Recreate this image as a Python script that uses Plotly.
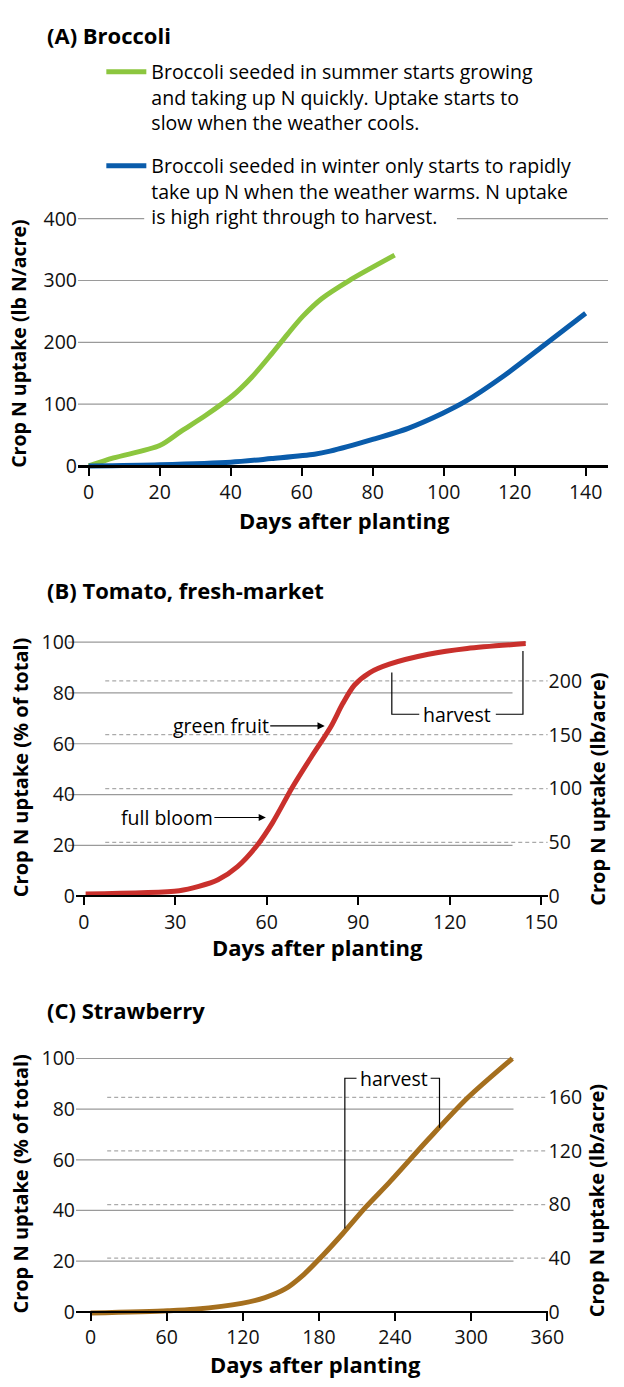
import plotly.graph_objects as go

# ---------------- data ----------------
broccoli_summer_days = [0, 7, 20, 26, 33, 40.6, 46, 51.5, 56, 60.3, 65.7, 73.4, 86.2]
broccoli_summer_n = [0, 13, 33, 56, 82, 114, 144, 181, 213, 242, 271, 300, 341]
broccoli_winter_days = [0, 20, 40, 51.5, 63.6, 68, 80, 90, 99.6, 106, 117, 128, 140]
broccoli_winter_n = [0, 2, 6, 12, 19, 24, 43, 61, 85, 104, 146, 194, 247]

tomato_days = [0.6, 31.3, 37.7, 44, 50.4, 56.8, 61.9, 68.3, 74.7, 81, 84.9, 88.7, 93.8, 100.2, 113, 125.7, 144.9]
tomato_pct = [0.9, 2.2, 3.9, 6.5, 11.7, 20, 29, 42.7, 55, 66.7, 75.8, 83, 88, 91.3, 95.2, 97.5, 99.4]

strawberry_days = [0, 60.8, 82, 119, 137.5, 153, 168, 183.5, 199, 217, 235.7, 266, 297, 332.4]
strawberry_pct = [-0.5, 0.4, 1, 3.3, 5.6, 8.9, 14.7, 22.5, 31, 41.4, 51.2, 68, 84.4, 100]

a_xticks = [0, 20, 40, 60, 80, 100, 120, 140]
a_yticks = [0, 100, 200, 300, 400]
b_xticks = [0, 30, 60, 90, 120, 150]
b_yticks_pct = [0, 20, 40, 60, 80, 100]
b_yticks_lb = [0, 50, 100, 150, 200]
c_xticks = [0, 60, 120, 180, 240, 300, 360]
c_yticks_pct = [0, 20, 40, 60, 80, 100]
c_yticks_lb = [0, 40, 80, 120, 160]
b_lb_per_pct = 2.36
c_lb_per_pct = 1.89

summer_label = "Broccoli seeded in summer starts growing<br>and taking up N quickly. Uptake starts to<br>slow when the weather cools."
winter_label = "Broccoli seeded in winter only starts to rapidly<br>take up N when the weather warms. N uptake<br>is high right through to harvest."

# tomato annotations: (day, pct) the arrow points to
green_fruit_pt = (79, 67)
full_bloom_pt = (59.7, 31)
tomato_harvest = dict(x0=101, x1=144, y_low=71.6, y0_top=88, y1_top=96.5)
straw_harvest = dict(x0=200.4, x1=275, y_top=92.2, y0_low=32.9, y1_low=72.7)

# ---------------- styling ----------------
W, H = 624, 1387
FONT = "Open Sans, Roboto, sans-serif"
GREEN = "#8CC63F"
BLUE = "#0A5CAB"
RED = "#C9302C"
BROWN = "#A56F1E"
GRID = "#9a9a9a"
DASH = "#aaaaaa"


def px(x):
    return x / W


def py(y):
    return 1 - y / H


fig = go.Figure()

# Panel A traces
fig.add_trace(go.Scatter(x=broccoli_summer_days, y=broccoli_summer_n, mode="lines",
                         line=dict(color=GREEN, width=5, shape="spline", smoothing=0.8),
                         name=summer_label, legendgroup="s", xaxis="x", yaxis="y"))
fig.add_trace(go.Scatter(x=broccoli_winter_days, y=broccoli_winter_n, mode="lines",
                         line=dict(color=BLUE, width=5, shape="spline", smoothing=0.8),
                         name=winter_label, legendgroup="w", xaxis="x", yaxis="y"))
# Panel B
fig.add_trace(go.Scatter(x=tomato_days, y=tomato_pct, mode="lines",
                         line=dict(color=RED, width=5, shape="spline", smoothing=0.8),
                         showlegend=False, xaxis="x2", yaxis="y2"))
# Panel C
fig.add_trace(go.Scatter(x=strawberry_days, y=strawberry_pct, mode="lines",
                         line=dict(color=BROWN, width=5, shape="spline", smoothing=0.8),
                         showlegend=False, xaxis="x3", yaxis="y3"))

tickfont = dict(family=FONT, size=19.5, color="#111")

# axis ranges / domains (pixel-derived)
a_yr = [-10, 410]
a_ydom = [py(463 + 10 * 0.625), py(463 - 410 * 0.625)]
b_yr = [-5, 103]
b_ydom = [py(898 + 5 * 2.57), py(898 - 103 * 2.57)]
c_yr = [-5, 103]
c_ydom = [py(1318 + 5 * 2.56), py(1318 - 103 * 2.56)]

xcommon = dict(showgrid=False, zeroline=False, showline=True, linecolor="black",
               ticks="outside", ticklen=8, tickwidth=2, tickcolor="black",
               tickfont=tickfont, anchor="free")
ycommon = dict(showgrid=False, zeroline=False, showline=False, ticks="",
               tickfont=tickfont)

fig.update_layout(
    xaxis=dict(domain=[px(80), 1], range=[-3.02, 146.3], tickvals=a_xticks,
               position=py(463), linewidth=3, **xcommon),
    yaxis=dict(domain=a_ydom, range=a_yr, tickvals=a_yticks, anchor="x", **ycommon),
    xaxis2=dict(domain=[px(78), px(562)], range=[-2.56, 152.08], tickvals=b_xticks,
                position=py(898), linewidth=2, **xcommon),
    yaxis2=dict(domain=b_ydom, range=b_yr, tickvals=b_yticks_pct, anchor="x2", **ycommon),
    yaxis4=dict(overlaying="y2", side="right", anchor="free", position=px(562),
                range=[b_yr[0] * b_lb_per_pct, b_yr[1] * b_lb_per_pct],
                tickvals=b_yticks_lb, **ycommon),
    xaxis3=dict(domain=[px(78), px(562)], range=[-11.51, 360.2], tickvals=c_xticks,
                position=py(1318), linewidth=2, **xcommon),
    yaxis3=dict(domain=c_ydom, range=c_yr, tickvals=c_yticks_pct, anchor="x3", **ycommon),
    yaxis5=dict(overlaying="y3", side="right", anchor="free", position=px(562),
                range=[c_yr[0] * c_lb_per_pct, c_yr[1] * c_lb_per_pct],
                tickvals=c_yticks_lb, **ycommon),
)

# invisible traces to register right axes
fig.add_trace(go.Scatter(x=[None], y=[None], xaxis="x2", yaxis="y4", showlegend=False, hoverinfo="skip"))
fig.add_trace(go.Scatter(x=[None], y=[None], xaxis="x3", yaxis="y5", showlegend=False, hoverinfo="skip"))

shapes = []
# Panel A gridlines (400 split around legend text)
for v in a_yticks[1:]:
    if v == a_yticks[-1]:
        shapes.append(dict(type="line", xref="paper", yref="y", x0=px(80), x1=px(148), y0=v, y1=v,
                           line=dict(color=GRID, width=1.2), layer="below"))
        shapes.append(dict(type="line", xref="paper", yref="y", x0=px(469), x1=1, y0=v, y1=v,
                           line=dict(color=GRID, width=1.2), layer="below"))
    else:
        shapes.append(dict(type="line", xref="paper", yref="y", x0=px(80), x1=1, y0=v, y1=v,
                           line=dict(color=GRID, width=1.2), layer="below"))
# Panel B gridlines
for v in b_yticks_pct[1:]:
    shapes.append(dict(type="line", xref="paper", yref="y2", x0=px(70), x1=px(526 if v < 100 else 540),
                       y0=v, y1=v, line=dict(color=GRID, width=1.2), layer="below"))
for v in b_yticks_lb[1:]:
    shapes.append(dict(type="line", xref="paper", yref="y4", x0=px(108), x1=px(562), y0=v, y1=v,
                       line=dict(color=DASH, width=1.2, dash="4px,3px"), layer="below"))
# Panel C gridlines
for v in c_yticks_pct[1:]:
    shapes.append(dict(type="line", xref="paper", yref="y3", x0=px(78), x1=px(527),
                       y0=v, y1=v, line=dict(color=GRID, width=1.2), layer="below"))
for v in c_yticks_lb[1:]:
    shapes.append(dict(type="line", xref="paper", yref="y5", x0=px(110), x1=px(562), y0=v, y1=v,
                       line=dict(color=DASH, width=1.2, dash="4px,3px"), layer="below"))

# harvest brackets
th = tomato_harvest
shapes.append(dict(type="path", xref="x2", yref="y2",
                   path=f"M{th['x0']},{th['y0_top']} L{th['x0']},{th['y_low']} L110,{th['y_low']} "
                        f"M135.1,{th['y_low']} L{th['x1']},{th['y_low']} L{th['x1']},{th['y1_top']}",
                   line=dict(color="black", width=1.2)))
sh = straw_harvest
shapes.append(dict(type="path", xref="x3", yref="y3",
                   path=f"M{sh['x0']},{sh['y0_low']} L{sh['x0']},{sh['y_top']} L209.6,{sh['y_top']} "
                        f"M268,{sh['y_top']} L{sh['x1']},{sh['y_top']} L{sh['x1']},{sh['y1_low']}",
                   line=dict(color="black", width=1.2)))

annotations = []


def ann(text, x, y, size=20, angle=0, xanchor="center"):
    f = dict(family=FONT, size=size, color="black")
    annotations.append(dict(text=text, x=px(x), y=py(y), xref="paper", yref="paper",
                            showarrow=False, font=f, textangle=angle, xanchor=xanchor, yanchor="middle"))


ann("<b>(A) Broccoli</b>", 46, 27, size=22, xanchor="left")
ann("<b>(B) Tomato, fresh-market</b>", 46, 588, size=22, xanchor="left")
ann("<b>(C) Strawberry</b>", 46, 1013, size=22, xanchor="left")

ann("<b>Crop N uptake (lb N/acre)</b>", 19, 340, size=19.5, angle=-90)
ann("<b>Crop N uptake (% of total)</b>", 21, 767, size=20, angle=-90)
ann("<b>Crop N uptake (lb/acre)</b>", 613, 790, size=20, angle=-90)
ann("<b>Crop N uptake (% of total)</b>", 21, 1188, size=20, angle=-90)
ann("<b>Crop N uptake (lb/acre)</b>", 613, 1206, size=20, angle=-90)

ann("<b>Days after planting</b>", 354, 518, size=22)
ann("<b>Days after planting</b>", 326, 949, size=22)
ann("<b>Days after planting</b>", 324, 1371, size=22)

afont = dict(family=FONT, size=19.5, color="black")
# arrows with labels (tomato)
annotations.append(dict(text="green fruit", x=green_fruit_pt[0], y=green_fruit_pt[1], xref="x2", yref="y2",
                        showarrow=True, arrowhead=2, arrowsize=1.2, arrowwidth=1.2, arrowcolor="black",
                        ax=-104, ay=0, font=afont))
annotations.append(dict(text="full bloom", x=full_bloom_pt[0], y=full_bloom_pt[1], xref="x2", yref="y2",
                        showarrow=True, arrowhead=2, arrowsize=1.2, arrowwidth=1.2, arrowcolor="black",
                        ax=-99, ay=0, font=afont))
annotations.append(dict(text="harvest", x=122.4, y=th["y_low"], xref="x2", yref="y2", showarrow=False,
                        font=afont))
annotations.append(dict(text="harvest", x=239.2, y=sh["y_top"], xref="x3", yref="y3", showarrow=False,
                        font=afont))

fig.update_layout(
    width=W, height=H, margin=dict(l=0, r=0, t=0, b=0),
    paper_bgcolor="white", plot_bgcolor="rgba(0,0,0,0)",
    font=dict(family=FONT, size=19, color="black"),
    shapes=shapes, annotations=annotations,
    showlegend=True,
    legend=dict(x=px(104), y=py(45), xanchor="left", yanchor="top", bgcolor="rgba(0,0,0,0)",
                font=dict(family=FONT, size=19.5, color="black"), itemwidth=40, valign="top",
                tracegroupgap=15, traceorder="grouped"),
)

fig.write_html("out.html", config={"displayModeBar": False},
               post_script="document.body.style.margin='0';document.body.style.overflow='hidden';")
